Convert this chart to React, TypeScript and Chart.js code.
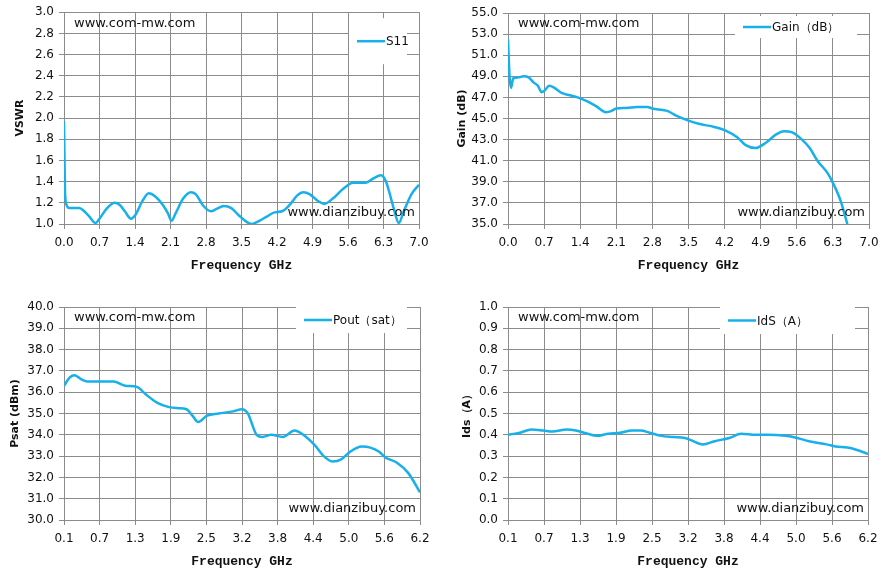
import React, { useEffect, useRef } from "react";
import { Chart, registerables } from "chart.js";
Chart.register(...registerables);

// ---------- data ----------
const s11Freq = [0, 0.02, 0.05, 0.1, 0.2, 0.3, 0.4, 0.5, 0.62, 0.7, 0.85, 1.0, 1.1, 1.2, 1.32, 1.4, 1.55, 1.67, 1.8, 1.95, 2.05, 2.12, 2.2, 2.35, 2.5, 2.6, 2.75, 2.9, 3.0, 3.15, 3.3, 3.45, 3.6, 3.7, 3.85, 4.0, 4.15, 4.3, 4.45, 4.6, 4.72, 4.85, 5.0, 5.13, 5.3, 5.5, 5.7, 5.95, 6.1, 6.25, 6.35, 6.5, 6.6, 6.7, 6.85, 7.0];
const s11Vals = [1.97, 1.3, 1.18, 1.15, 1.15, 1.15, 1.12, 1.07, 1.01, 1.05, 1.15, 1.2, 1.18, 1.12, 1.05, 1.08, 1.22, 1.29, 1.26, 1.18, 1.1, 1.03, 1.1, 1.24, 1.3, 1.28, 1.17, 1.12, 1.14, 1.17, 1.15, 1.08, 1.02, 1.0, 1.03, 1.07, 1.11, 1.12, 1.18, 1.27, 1.3, 1.28, 1.22, 1.19, 1.24, 1.33, 1.39, 1.39, 1.43, 1.46, 1.4, 1.15, 1.01, 1.12, 1.28, 1.37];

const gainFreq = [0, 0.03, 0.06, 0.1, 0.2, 0.3, 0.4, 0.5, 0.58, 0.65, 0.7, 0.8, 0.9, 1.05, 1.2, 1.35, 1.55, 1.7, 1.9, 2.0, 2.1, 2.3, 2.5, 2.7, 2.8, 3.0, 3.1, 3.25, 3.5, 3.7, 4.0, 4.2, 4.45, 4.6, 4.8, 5.0, 5.2, 5.35, 5.5, 5.7, 5.85, 6.0, 6.2, 6.3, 6.45, 6.58];
const gainVals = [52.5, 49.0, 47.9, 48.8, 48.9, 49.0, 48.9, 48.4, 48.1, 47.5, 47.6, 48.1, 47.9, 47.4, 47.2, 47.0, 46.6, 46.2, 45.6, 45.7, 45.95, 46.0, 46.1, 46.1, 45.95, 45.8, 45.7, 45.3, 44.8, 44.5, 44.2, 43.9, 43.2, 42.5, 42.2, 42.7, 43.5, 43.8, 43.7, 43.0, 42.2, 41.0, 39.8, 38.9, 37.2, 35.0];

const poutFreq = [0.1, 0.2, 0.28, 0.4, 0.5, 0.7, 0.95, 1.15, 1.35, 1.5, 1.7, 1.9, 2.05, 2.2, 2.3, 2.4, 2.55, 2.75, 3.0, 3.15, 3.25, 3.4, 3.5, 3.65, 3.85, 4.05, 4.2, 4.4, 4.55, 4.7, 4.85, 5.0, 5.2, 5.35, 5.5, 5.6, 5.8, 6.0, 6.2];
const poutVals = [36.3, 36.7, 36.8, 36.6, 36.5, 36.5, 36.5, 36.3, 36.25, 35.9, 35.5, 35.3, 35.25, 35.2, 34.9, 34.6, 34.9, 35.0, 35.1, 35.2, 35.0, 34.0, 33.9, 34.0, 33.9, 34.2, 34.0, 33.5, 33.0, 32.75, 32.85, 33.2, 33.45, 33.4, 33.2, 32.95, 32.7, 32.2, 31.3];

const idsFreq = [0.1, 0.3, 0.5, 0.7, 0.85, 1.1, 1.25, 1.45, 1.6, 1.8, 2.0, 2.2, 2.35, 2.5, 2.7, 2.9, 3.1, 3.2, 3.4, 3.6, 3.85, 4.05, 4.3, 4.5, 4.8, 5.0, 5.2, 5.5, 5.65, 5.85, 6.0, 6.2];
const idsVals = [0.4, 0.41, 0.425, 0.42, 0.415, 0.425, 0.42, 0.405, 0.395, 0.405, 0.41, 0.42, 0.42, 0.41, 0.395, 0.39, 0.385, 0.375, 0.355, 0.37, 0.385, 0.405, 0.4, 0.4, 0.395, 0.385, 0.37, 0.355, 0.345, 0.34, 0.33, 0.31];

const topXTicks = ["0.0", "0.7", "1.4", "2.1", "2.8", "3.5", "4.2", "4.9", "5.6", "6.3", "7.0"];
const bottomXTicks = ["0.1", "0.7", "1.3", "1.9", "2.5", "3.2", "3.8", "4.4", "5.0", "5.6", "6.2"];

const LINE = "#17B0EA";
const GRID = "#8c8c8c";
const TICKFONT = { family: "DejaVu Sans", size: 12 };

type Panel = {
  left: number; top: number; w: number; h: number;
  pad: { left: number; right: number; top: number; bottom: number };
  yW: number;
  xs: number[]; ys: number[]; name: string; yTitle: string;
  yMin: number; yMax: number; yStep: number; yDec: number;
  xLabels: string[]; xMin: number; xMax: number; xMap: (f: number) => number;
  legend: { x: number; y: number; w: number; h: number };
};

const wmPlugin = {
  id: "wm",
  afterDatasetsDraw(chart: any, _a: any, opts: any) {
    const { ctx, chartArea: ca } = chart;
    ctx.save();
    ctx.fillStyle = "#111";
    ctx.font = "13px 'DejaVu Sans'";
    ctx.textBaseline = "middle";
    ctx.textAlign = "left";
    ctx.fillText("www.com-mw.com", ca.left + 10, ca.top + 11);
    ctx.textAlign = "right";
    ctx.fillText("www.dianzibuy.com", ca.right - 4, ca.bottom - 11);
    const lg = opts.legend;
    ctx.fillStyle = "#fff";
    ctx.fillRect(ca.left + lg.x, ca.top + lg.y, lg.w, lg.h);
    const ly = ca.top + lg.y + lg.h / 2;
    ctx.strokeStyle = LINE;
    ctx.lineWidth = 2.5;
    ctx.beginPath();
    ctx.moveTo(ca.left + lg.x + 8, ly);
    ctx.lineTo(ca.left + lg.x + 36, ly);
    ctx.stroke();
    ctx.fillStyle = "#111";
    ctx.textAlign = "left";
    ctx.font = "12px 'DejaVu Sans'";
    ctx.fillText(opts.name, ca.left + lg.x + 37, ly + 1);
    ctx.restore();
  },
};

const topMap = (f: number) => f;
const botMap = (f: number) => (f - 0.1) / 0.61;

const panels: Panel[] = [
  { left: 0, top: 0, w: 440, h: 290, pad: { left: 14, right: 21, top: 10, bottom: 14 }, yW: 50,
    xs: s11Freq, ys: s11Vals, name: "S11", yTitle: "VSWR", yMin: 1, yMax: 3, yStep: 0.2, yDec: 1,
    xLabels: topXTicks, xMin: 0, xMax: 7, xMap: topMap, legend: { x: 285, y: 6, w: 58, h: 46 } },
  { left: 440, top: 0, w: 453, h: 290, pad: { left: 16, right: 24, top: 13, bottom: 14 }, yW: 52,
    xs: gainFreq, ys: gainVals, name: "Gain（dB）", yTitle: "Gain (dB)", yMin: 35, yMax: 55, yStep: 2, yDec: 1,
    xLabels: topXTicks, xMin: 0, xMax: 7, xMap: topMap, legend: { x: 227, y: 3, w: 122, h: 22 } },
  { left: 0, top: 290, w: 440, h: 291, pad: { left: 9, right: 20, top: 17, bottom: 9 }, yW: 55,
    xs: poutFreq, ys: poutVals, name: "Pout（sat）", yTitle: "Psat (dBm)", yMin: 30, yMax: 40, yStep: 1, yDec: 1,
    xLabels: bottomXTicks, xMin: 0, xMax: 10, xMap: botMap, legend: { x: 232, y: 0, w: 111, h: 26 } },
  { left: 440, top: 290, w: 453, h: 291, pad: { left: 21, right: 25, top: 17, bottom: 9 }, yW: 47,
    xs: idsFreq, ys: idsVals, name: "IdS（A）", yTitle: "Ids（A）", yMin: 0, yMax: 1, yStep: 0.1, yDec: 1,
    xLabels: bottomXTicks, xMin: 0, xMax: 10, xMap: botMap, legend: { x: 212, y: 0, w: 135, h: 27 } },
];

function PanelChart({ p }: { p: Panel }) {
  const ref = useRef<HTMLCanvasElement>(null);
  useEffect(() => {
    const data = p.xs.map((f, i) => ({ x: p.xMap(f), y: p.ys[i] }));
    const chart = new Chart(ref.current!, {
      type: "line",
      data: { datasets: [{ data, borderColor: LINE, borderWidth: 2.5, pointRadius: 0, cubicInterpolationMode: "monotone" }] },
      plugins: [wmPlugin],
      options: {
        animation: false, responsive: false, devicePixelRatio: 1,
        layout: { padding: p.pad },
        plugins: { legend: { display: false }, tooltip: { enabled: false }, wm: { name: p.name, legend: p.legend } } as any,
        scales: {
          x: {
            type: "linear", min: p.xMin, max: p.xMax,
            afterBuildTicks: (ax: any) => { ax.ticks = p.xLabels.map((_, i) => ({ value: p.xMin + (i * (p.xMax - p.xMin)) / 10 })); },
            afterFit: (ax: any) => { ax.height = 52; },
            ticks: { font: TICKFONT, color: "#111", maxRotation: 0, autoSkip: false, padding: 7,
              callback: (_v: any, i: number) => p.xLabels[i] },
            grid: { color: GRID, lineWidth: 1, tickLength: 5, tickColor: GRID },
            border: { color: GRID },
            title: { display: true, text: "Frequency GHz", color: "#111", font: { family: "Liberation Mono", size: 13, weight: "bold" }, padding: { top: 4, bottom: 2 } },
          },
          y: {
            min: p.yMin, max: p.yMax,
            afterFit: (ax: any) => { ax.width = p.yW; },
            ticks: { stepSize: p.yStep, font: TICKFONT, color: "#111", padding: 5,
              callback: (v: any) => Number(v).toFixed(p.yDec) },
            grid: { color: GRID, lineWidth: 1, tickLength: 5, tickColor: GRID },
            border: { color: GRID },
            title: { display: true, text: p.yTitle, color: "#111", font: { family: "DejaVu Sans", size: 11, weight: "bold" }, padding: 0 },
          },
        },
      } as any,
    });
    return () => chart.destroy();
  }, []);
  return <canvas ref={ref} width={p.w} height={p.h} style={{ position: "absolute", left: p.left, top: p.top, width: p.w, height: p.h }} />;
}

export default function App() {
  return (
    <div style={{ position: "absolute", left: 0, top: 0, width: 893, height: 581, background: "#fff" }}>
      {panels.map((p, i) => <PanelChart key={i} p={p} />)}
    </div>
  );
}
